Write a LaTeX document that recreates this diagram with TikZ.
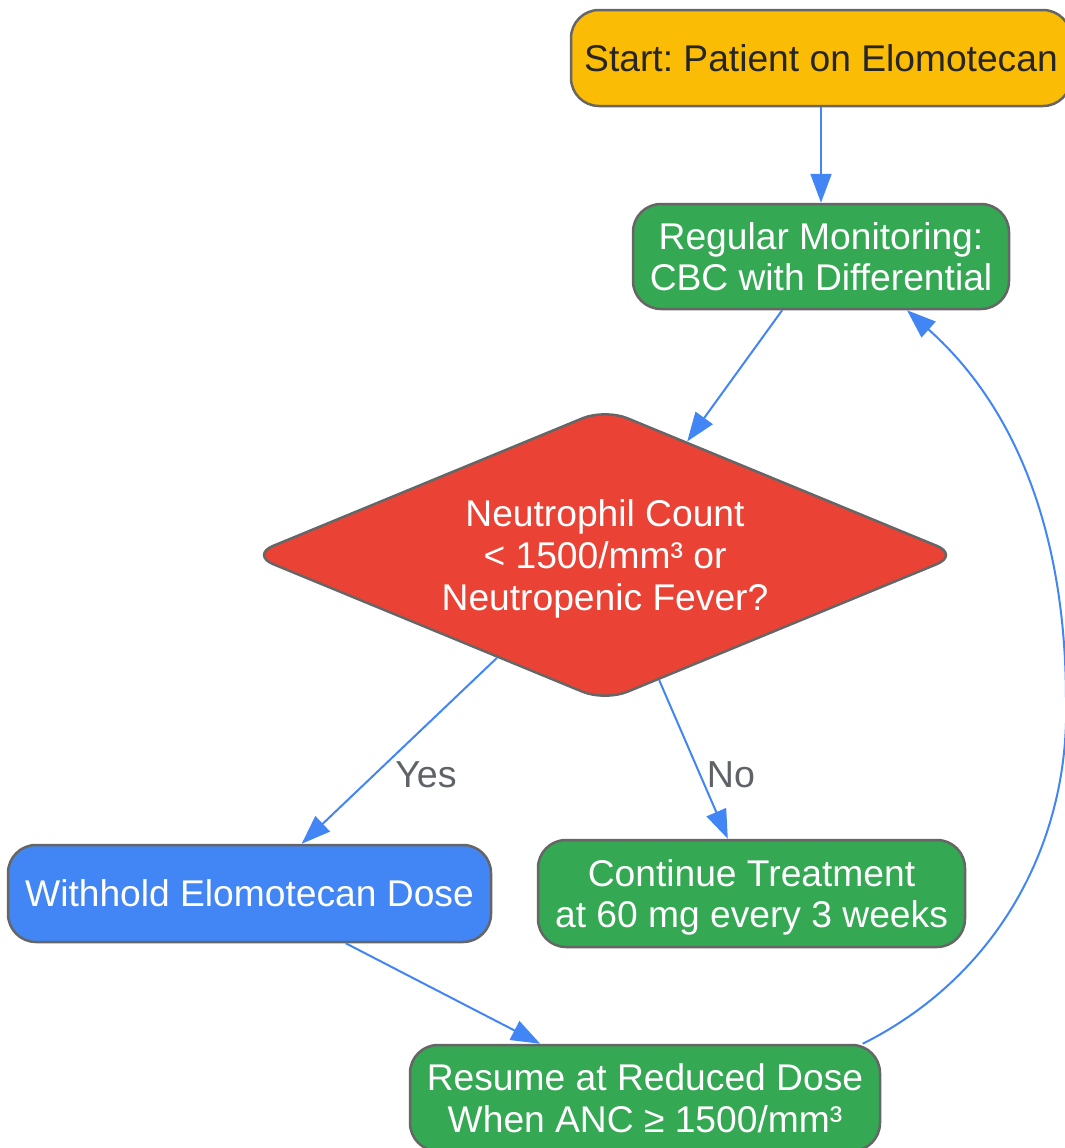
\documentclass[tikz,border=0pt]{standalone}
\usepackage{fontspec}
\setmainfont{Liberation Sans}
\frenchspacing
\usetikzlibrary{shapes.geometric,arrows.meta}
\definecolor{gyellow}{HTML}{FBBC05}
\definecolor{ggreen}{HTML}{34A853}
\definecolor{gred}{HTML}{EA4335}
\definecolor{gblue}{HTML}{4285F4}
\definecolor{gborder}{HTML}{666666}
\definecolor{glabel}{HTML}{5F6368}
\begin{document}
\begin{tikzpicture}[x=0.5pt, y=-0.5pt,
  box/.style={draw=gborder, line width=1.25pt, rounded corners=14pt, align=center, text=white, inner sep=0pt, text depth=0pt, font=\fontsize{18.6}{20.85}\selectfont},
  flow/.style={draw=gblue, line width=1pt, -{Triangle[length=14.5pt,width=10.5pt]}},
  lbl/.style={text=glabel, font=\fontsize{18.8}{20}\selectfont}]
  \useasboundingbox (0,0) rectangle (1065,1148);
  % 绘制节点
  \node[box, fill=gyellow, text=black!85, minimum width=250pt, minimum height=48pt] (start) at (821,58) {Start: Patient on Elomotecan};
  \node[box, fill=ggreen, minimum width=188pt, minimum height=52.5pt] (mon) at (821,256.5) {Regular Monitoring:\\CBC with Differential};
  \node[box, fill=gred, diamond, shape aspect=2.42, rounded corners=12pt, minimum width=354.5pt, minimum height=146.5pt] (dec) at (605,555) {Neutrophil Count\\< 1500/mm³ or\\Neutropenic Fever?};
  \node[box, fill=gblue, minimum width=241.5pt, minimum height=48.5pt] (hold) at (249.5,893.5) {Withhold Elomotecan Dose};
  \node[box, fill=ggreen, minimum width=213.5pt, minimum height=53.5pt] (cont) at (751.5,893.5) {Continue Treatment\\at 60 mg every 3 weeks};
  \node[box, fill=ggreen, minimum width=235pt, minimum height=53pt] (res) at (645,1098) {Resume at Reduced Dose\\When ANC ≥ 1500/mm³};
  \coordinate (bend) at (1066,700);
  % 绘制连线
  \draw[flow] (start) -- (mon);
  \draw[flow] (mon) -- (dec);
  \draw[flow] (dec) -- (hold);
  \draw[flow] (dec) -- (cont);
  \draw[flow] (hold) -- (res);
  \draw[flow] (res.14) .. controls (1000,975) and (1070,840) .. (bend) .. controls (1066,560) and (1030,420) .. (mon.-32);
  \node[lbl] (yes) at (426,775) {Yes};
  \node[lbl] (no) at (731,775) {No};
\end{tikzpicture}
\end{document}
